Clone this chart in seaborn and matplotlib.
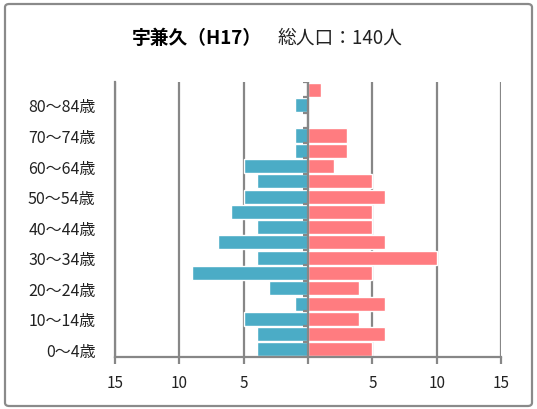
import matplotlib
matplotlib.use("Agg")
import matplotlib.pyplot as plt
import seaborn as sns
import pandas as pd
from matplotlib.patches import FancyBboxPatch

ages = ["0～4歳", "5～9歳", "10～14歳", "15～19歳", "20～24歳", "25～29歳",
        "30～34歳", "35～39歳", "40～44歳", "45～49歳", "50～54歳", "55～59歳",
        "60～64歳", "65～69歳", "70～74歳", "75～79歳", "80～84歳", "85～89歳"]
male = [4, 4, 5, 1, 3, 9, 4, 7, 4, 6, 5, 4, 5, 1, 1, 0, 1, 0]
female = [5, 6, 4, 6, 4, 5, 10, 6, 5, 5, 6, 5, 2, 3, 3, 0, 0, 1]
xticks = [-15, -10, -5, 0, 5, 10, 15]
xticklabels = ["15", "10", "5", "", "5", "10", "15"]
title_bold = "宇兼久（H17）"
title_normal = "総人口：140人"

sns.set_theme(style="white")
plt.rcParams['font.family'] = ['Noto Sans CJK JP', 'DejaVu Sans']

df = pd.DataFrame({
    "age": ages * 2,
    "value": [-m for m in male] + female,
    "sex": ["男"] * len(ages) + ["女"] * len(ages),
})

order = ages[::-1]
fig = plt.figure(figsize=(5.37, 4.10), dpi=100)
ax = fig.add_axes([115 / 537, 1 - 358 / 410, (501 - 115) / 537, (358 - 83) / 410])

grid_c = "#878787"
for xv in xticks:
    ax.axvline(xv, color=grid_c, lw=1.6, zorder=0)

sns.barplot(data=df, x="value", y="age", hue="sex", order=order,
            palette={"男": "#4BACC6", "女": "#FF7C80"}, dodge=False,
            saturation=1, width=0.92, orient="h", edgecolor="white",
            linewidth=1.0, legend=False, ax=ax, zorder=2)

ax.axvline(0, color=grid_c, lw=1.6, zorder=4)
n = len(ages)
for k in range(n + 1):
    ax.plot([-0.35, 0], [k - 0.5, k - 0.5], color=grid_c, lw=1.6, zorder=4,
            solid_capstyle="butt")

ax.set_xlim(-15, 15)
ax.set_ylim(n - 0.5, -0.5)
ax.set_xticks(xticks)
ax.set_xticklabels(xticklabels, fontsize=11, color="#222222")
shown = [i for i, a in enumerate(order) if ages.index(a) % 2 == 0]
ax.set_yticks(shown)
ax.set_yticklabels([order[i] for i in shown], fontsize=11.5, color="#222222")
ax.tick_params(axis="y", length=0, pad=14)
ax.tick_params(axis="x", length=5, width=1.6, color=grid_c, direction="out", pad=7, bottom=True)
ax.set_xlabel("")
ax.set_ylabel("")
for s in ["top", "right"]:
    ax.spines[s].set_visible(False)
for s in ["left", "bottom"]:
    ax.spines[s].set_color(grid_c)
    ax.spines[s].set_linewidth(1.6)
ax.spines["left"].set_zorder(0)

fig.text(262 / 537, 1 - 38 / 410, title_bold, ha="right", va="center",
         fontsize=13.5, fontweight="bold", color="#000000")
fig.text(277 / 537, 1 - 38 / 410, title_normal, ha="left", va="center",
         fontsize=13.5, color="#222222")

border = FancyBboxPatch((5 / 537, 3 / 410), 527 / 537, 402 / 410,
                        boxstyle="round,pad=0,rounding_size=0.008",
                        transform=fig.transFigure, fill=False,
                        edgecolor="#8a8a8a", lw=1.6)
fig.patches.append(border)

fig.savefig("out.png", dpi=100)
